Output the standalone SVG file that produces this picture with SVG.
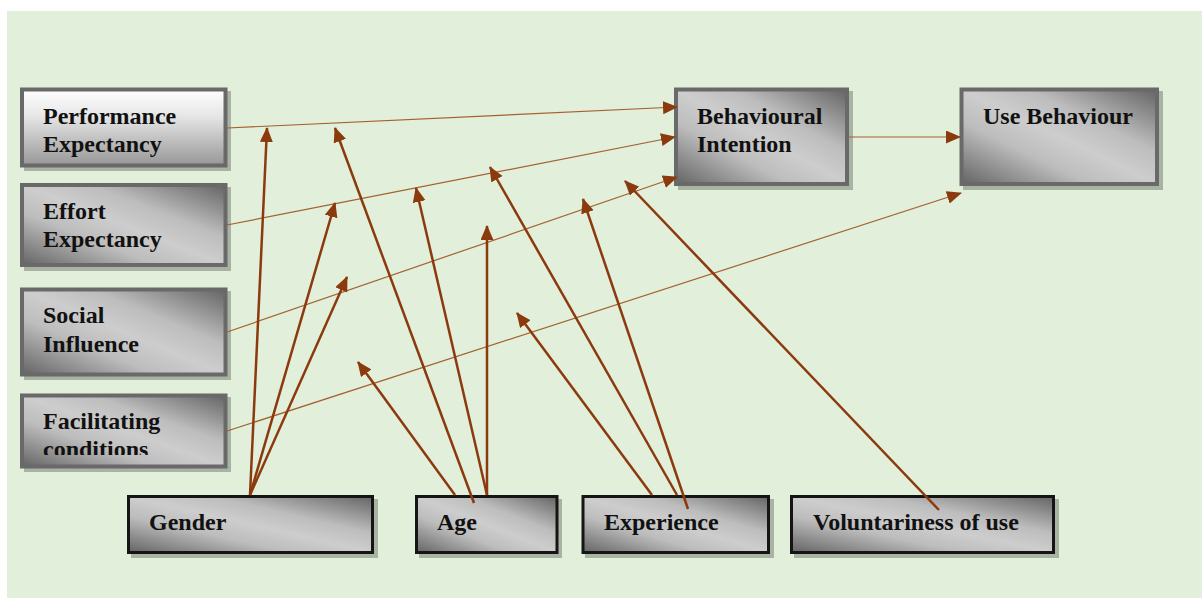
<svg xmlns="http://www.w3.org/2000/svg" width="1202" height="598" viewBox="0 0 1202 598">
  <style>
    .lbl { font-family: "Liberation Serif", "Times New Roman", serif; font-weight: bold; font-size: 24px; fill: #111; }
    .shadow { fill: #000; fill-opacity: 0.25; }
    .box-grey { fill: url(#diag); stroke: #696969; stroke-width: 4; }
    .box-top { fill: url(#vert); stroke: #696969; stroke-width: 4; }
    .box-dark { fill: url(#diag); stroke: #151515; stroke-width: 3; }
    .thin { stroke: #A4612F; stroke-width: 1.2; fill: none; marker-end: url(#arrow); }
    .thick { stroke: #8B3A0E; stroke-width: 2.5; fill: none; marker-end: url(#arrow); }
  </style>
  <defs>
    <linearGradient id="diag" x1="1" y1="0" x2="0" y2="1">
      <stop offset="0" stop-color="#646464"/>
      <stop offset="0.33" stop-color="#bdbdbd"/>
      <stop offset="0.5" stop-color="#cdcdcd"/>
      <stop offset="0.67" stop-color="#bdbdbd"/>
      <stop offset="1" stop-color="#646464"/>
    </linearGradient>
    <linearGradient id="vert" x1="0" y1="0" x2="0" y2="1">
      <stop offset="0" stop-color="#ffffff"/>
      <stop offset="0.35" stop-color="#e6e6e6"/>
      <stop offset="1" stop-color="#979797"/>
    </linearGradient>
    <marker id="arrow" markerUnits="userSpaceOnUse" markerWidth="16" markerHeight="14" refX="14" refY="6.5" orient="auto">
      <path d="M0,0 L15,6.5 L0,13 Z" fill="#8B3A0E"/>
    </marker>
    <clipPath id="fc-clip">
      <rect x="24" y="398" width="200" height="57"/>
    </clipPath>
  </defs>

  <!-- canvas -->
  <rect x="7" y="11" width="1195" height="587" fill="#E2EFDA"/>

  <!-- constructs -->
  <g id="performance-expectancy">
    <rect class="shadow" x="24" y="91" width="207" height="80"/>
    <rect class="box-top" x="22" y="89.5" width="203.5" height="76"/>
    <text class="lbl" x="43" y="124">Performance</text>
    <text class="lbl" x="43" y="152">Expectancy</text>
  </g>
  <g id="effort-expectancy">
    <rect class="shadow" x="24" y="187" width="207" height="84"/>
    <rect class="box-grey" x="22" y="185" width="203.5" height="80"/>
    <text class="lbl" x="43" y="219">Effort</text>
    <text class="lbl" x="43" y="247">Expectancy</text>
  </g>
  <g id="social-influence">
    <rect class="shadow" x="24" y="291" width="207" height="89"/>
    <rect class="box-grey" x="22" y="289.5" width="203.5" height="85"/>
    <text class="lbl" x="43" y="323">Social</text>
    <text class="lbl" x="43" y="352">Influence</text>
  </g>
  <g id="facilitating-conditions">
    <rect class="shadow" x="24" y="397" width="207" height="75"/>
    <rect class="box-grey" x="22" y="395.5" width="203.5" height="71"/>
    <g clip-path="url(#fc-clip)">
      <text class="lbl" x="43" y="429">Facilitating</text>
      <text class="lbl" x="43" y="457">conditions</text>
    </g>
  </g>
  <g id="behavioural-intention">
    <rect class="shadow" x="678" y="91" width="175" height="99"/>
    <rect class="box-grey" x="676" y="89.5" width="171" height="94.5"/>
    <text class="lbl" x="697" y="124">Behavioural</text>
    <text class="lbl" x="697" y="152">Intention</text>
  </g>
  <g id="use-behaviour">
    <rect class="shadow" x="963" y="91" width="200" height="99"/>
    <rect class="box-grey" x="961.5" y="89.5" width="195.5" height="94.5"/>
    <text class="lbl" x="983" y="124">Use Behaviour</text>
  </g>

  <!-- moderators -->
  <g id="gender">
    <rect class="shadow" x="131" y="499" width="247" height="59"/>
    <rect class="box-dark" x="128.5" y="496.5" width="244" height="56"/>
    <text class="lbl" x="149" y="530">Gender</text>
  </g>
  <g id="age">
    <rect class="shadow" x="419" y="499" width="143" height="59"/>
    <rect class="box-dark" x="416.5" y="496.5" width="140.5" height="56"/>
    <text class="lbl" x="437" y="530">Age</text>
  </g>
  <g id="experience">
    <rect class="shadow" x="585" y="499" width="189" height="59"/>
    <rect class="box-dark" x="583" y="496.5" width="185.5" height="56"/>
    <text class="lbl" x="604" y="530">Experience</text>
  </g>
  <g id="voluntariness">
    <rect class="shadow" x="794" y="499" width="265" height="59"/>
    <rect class="box-dark" x="791.5" y="496.5" width="262" height="56"/>
    <text class="lbl" x="813" y="530">Voluntariness of use</text>
  </g>

  <!-- connectors -->
  <g id="connectors">
    <!-- direct paths -->
    <line class="thin" x1="227" y1="128" x2="677" y2="107"/>
    <line class="thin" x1="227" y1="225" x2="675" y2="137"/>
    <line class="thin" x1="227" y1="332" x2="677" y2="177"/>
    <line class="thin" x1="227" y1="431" x2="961" y2="193"/>
    <line class="thin" x1="849" y1="137" x2="960" y2="137"/>

    <!-- gender -->
    <line class="thick" x1="250" y1="495" x2="267" y2="128"/>
    <line class="thick" x1="250" y1="495" x2="335" y2="203"/>
    <line class="thick" x1="250" y1="495" x2="347" y2="277"/>

    <!-- age -->
    <line class="thick" x1="455" y1="495" x2="358" y2="362"/>
    <line class="thick" x1="474" y1="503" x2="335" y2="128"/>
    <line class="thick" x1="487" y1="495" x2="416" y2="188"/>
    <line class="thick" x1="487" y1="495" x2="487" y2="226"/>

    <!-- experience -->
    <line class="thick" x1="652" y1="495" x2="517" y2="313"/>
    <line class="thick" x1="677" y1="495" x2="490" y2="167"/>
    <line class="thick" x1="688" y1="509" x2="583" y2="199"/>

    <!-- voluntariness -->
    <line class="thick" x1="939" y1="510" x2="625" y2="181"/>
  </g>
</svg>
